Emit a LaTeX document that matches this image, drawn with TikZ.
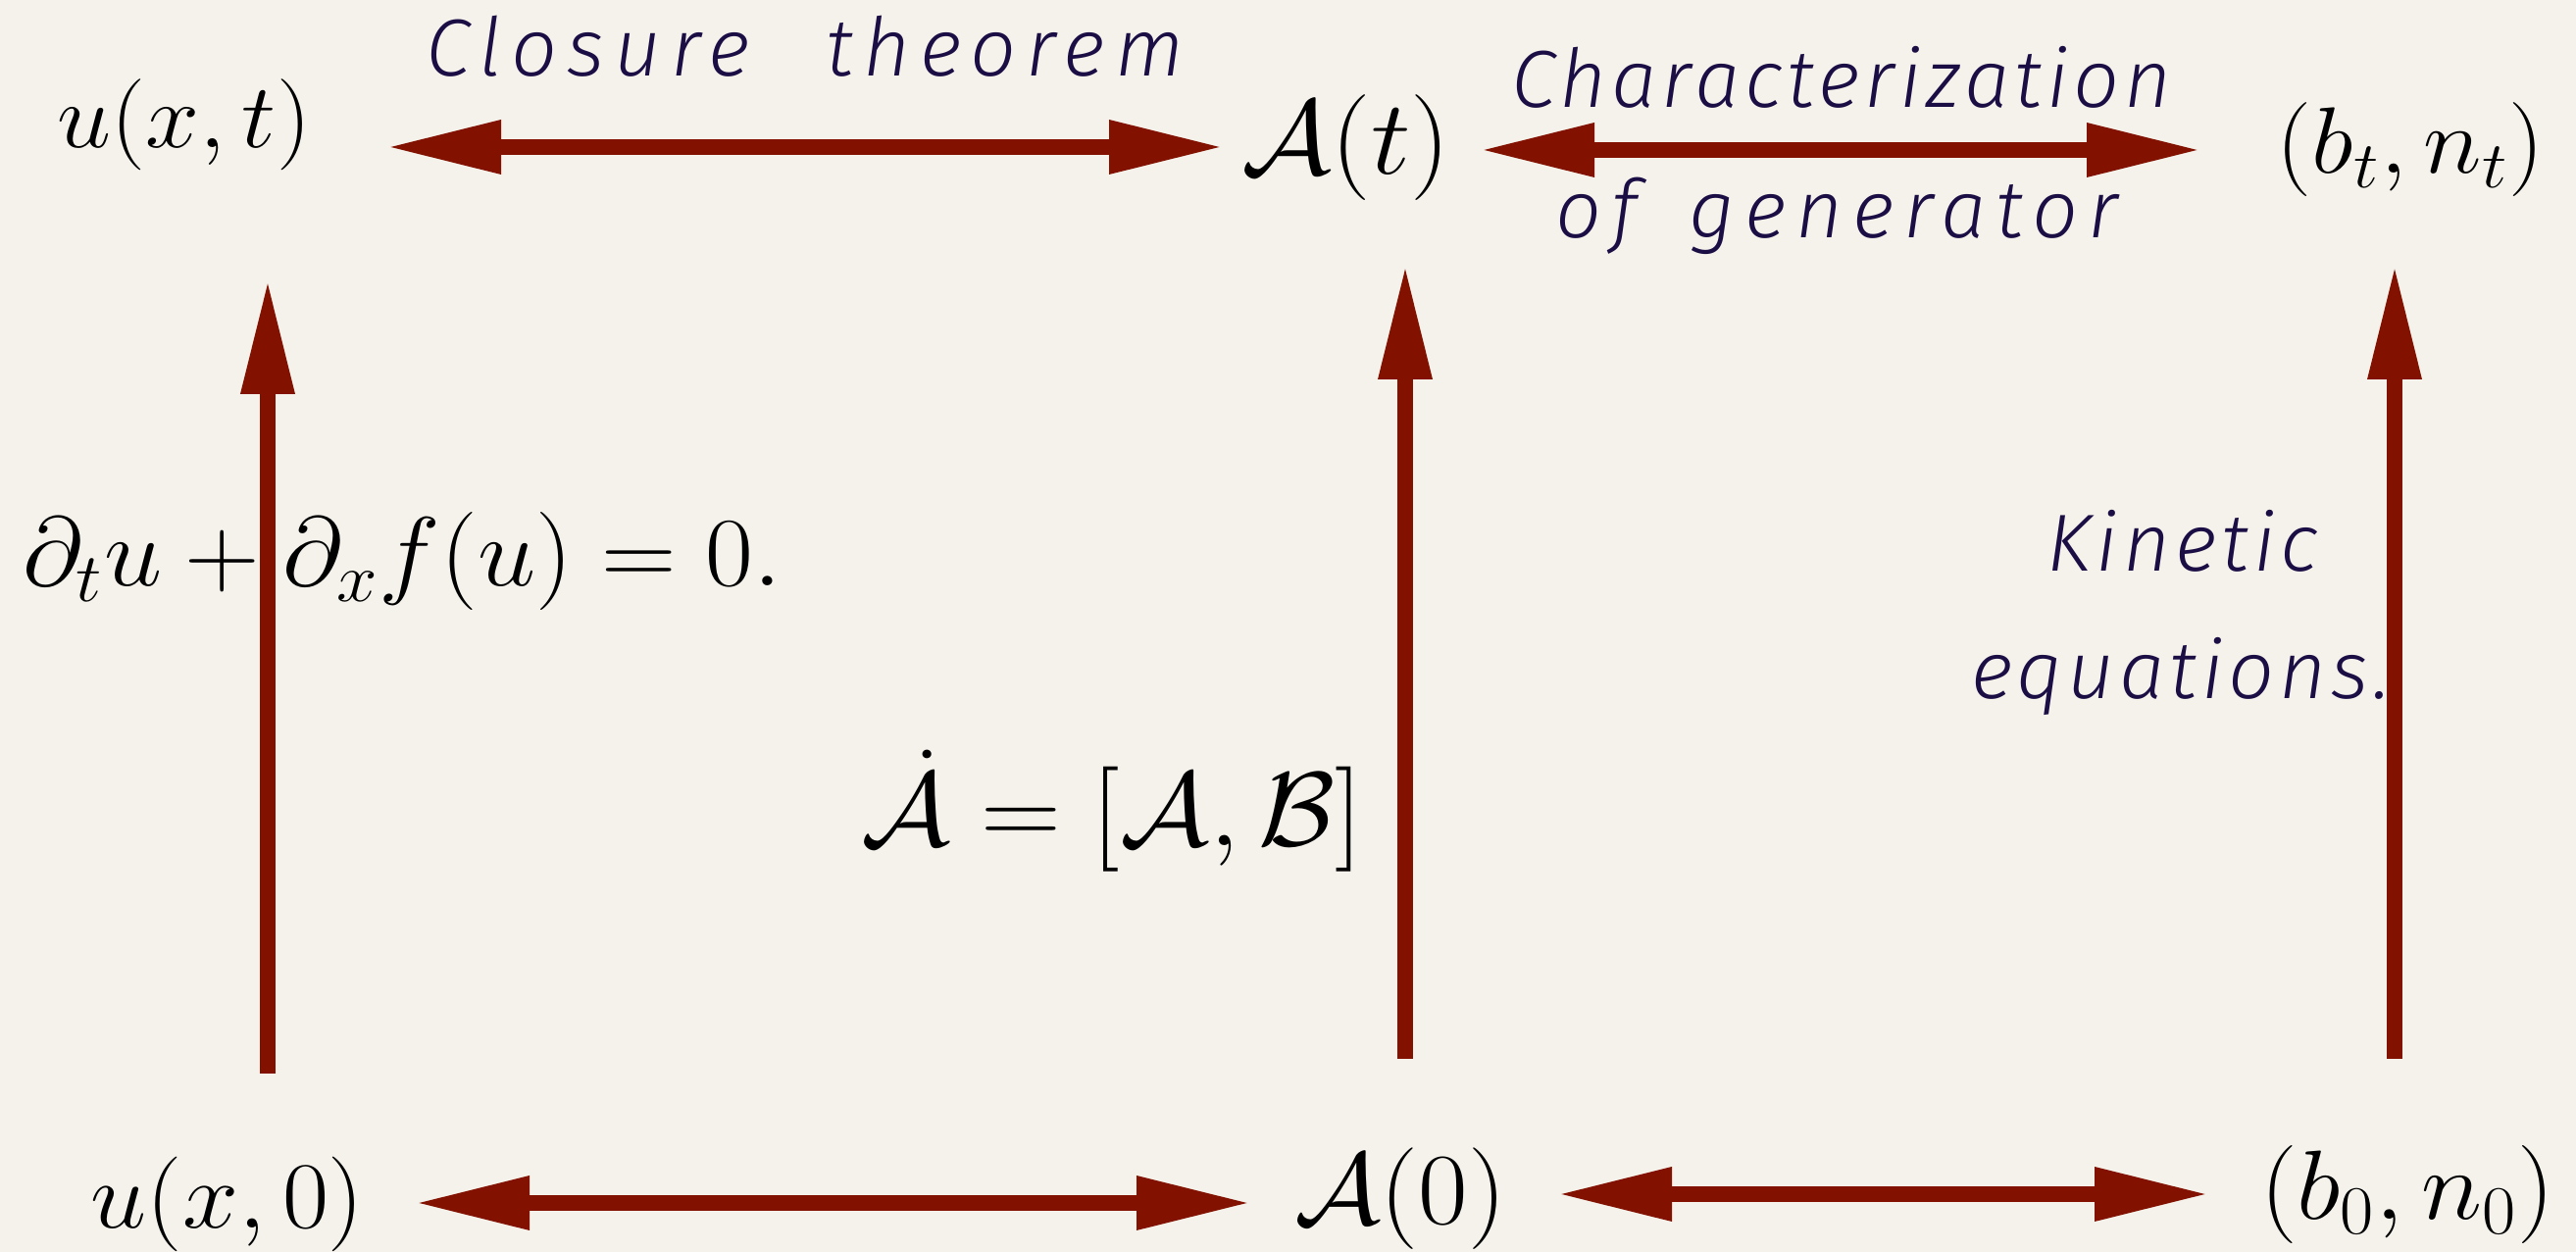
\RequirePackage{fix-cm}
\documentclass[tikz,border=0pt]{standalone}
\usepackage{amsmath, amssymb}
\usepackage{graphicx}
\usepackage{fontspec}
\usepackage{tikz}
\usetikzlibrary{positioning, arrows.meta}
\newfontfamily\handfont{Fira Sans Light Italic}[LetterSpace=6]
\newfontfamily\handwide{Fira Sans Light Italic}[LetterSpace=12]
\newcommand{\widen}[1]{\scalebox{1.06}[1]{#1}}
\definecolor{paper}{HTML}{F4F2EB}
\definecolor{paperdark}{HTML}{E6E3DC}
\definecolor{arrowred}{HTML}{821100}
\definecolor{ink}{HTML}{1A0E45}
\pgfdeclareradialshading{vignette}{\pgfpoint{0cm}{0cm}}{color(0bp)=(paper); color(40bp)=(paper); color(71bp)=(paperdark)}

\begin{document}
\begin{tikzpicture}[
    mathlabel/.style={inner sep=0pt},
    handnote/.style={inner sep=0pt, anchor=base, text=ink, font=\handfont\fontsize{23.5}{28}\selectfont},
    widenote/.style={handnote, font=\handwide\fontsize{23.5}{28}\selectfont},
    bigarrow/.style={line width=0.16cm, draw=arrowred, -{Triangle[length=1.17cm, width=0.51cm]}},
    twoway/.style={bigarrow, {Triangle[length=1.17cm, width=0.51cm]}-{Triangle[length=1.17cm, width=0.51cm]}}
  ]
    % Paper background
    \useasboundingbox (0,0) rectangle (26.27,12.77);
    \shade[shading=vignette] (0,0) rectangle (26.27,12.77);

    % Top row
    \node[mathlabel, font=\fontsize{26.5}{32}\selectfont] (uxt) at (1.88, 11.50) {\widen{$u(x,t)$}};
    \node[mathlabel, font=\fontsize{30.7}{36}\selectfont] (At) at (13.73, 11.26) {\widen{$\mathcal{A}(t)$}};
    \node[mathlabel, font=\fontsize{27.3}{33}\selectfont] (bnt) at (24.58, 11.24) {\widen{$(b_t,n_t)$}};

    % Bottom row
    \node[mathlabel, font=\fontsize{27.5}{33}\selectfont] (uxo) at (2.32, 0.49) {\widen{$u(x,0)$}};
    \node[mathlabel, font=\fontsize{29.5}{35}\selectfont] (Ao) at (14.28, 0.54) {\widen{$\mathcal{A}(0)$}};
    \node[mathlabel, font=\fontsize{28.5}{34}\selectfont] (bno) at (24.55, 0.59) {\widen{$(b_0,n_0)$}};

    % Evolution equations
    \node[mathlabel, anchor=base, font=\fontsize{28.5}{34}\selectfont] (pde) at (4.10, 6.79) {\widen{$\partial_t u + \partial_x f(u) = 0.$}};
    \node[mathlabel, anchor=base, font=\fontsize{30.5}{36}\selectfont] (lax) at (11.34, 4.14) {\widen{$\dot{\mathcal{A}} = [\mathcal{A},\mathcal{B}]$}};

    % Handwritten notes
    \node[widenote] (closure) at (8.21, 11.99) {Closure\hspace{0.45cm} theorem};
    \node[handnote] (charac) at (18.78, 11.67) {Characterization};
    \node[widenote] (ofgen) at (18.73, 10.34) {of\hspace{0.2cm} generator};
    \node[handnote] (kinetic) at (22.26, 6.94) {Kinetic};
    \node[handnote] (equations) at (22.24, 5.64) {equations.};

    % Arrow ends
    \coordinate (topA1) at (3.94, 11.27);  \coordinate (topA2) at (12.48, 11.27);
    \coordinate (topB1) at (15.09, 11.24); \coordinate (topB2) at (22.45, 11.24);
    \coordinate (botA1) at (4.23, 0.50);   \coordinate (botA2) at (12.76, 0.50);
    \coordinate (botB1) at (15.88, 0.59);  \coordinate (botB2) at (22.53, 0.59);
    \coordinate (upA1) at (2.73, 1.82);    \coordinate (upA2) at (2.73, 9.92);
    \coordinate (upB1) at (14.33, 1.97);   \coordinate (upB2) at (14.33, 10.07);
    \coordinate (upC1) at (24.42, 1.97);   \coordinate (upC2) at (24.42, 10.07);

    % Horizontal correspondences
    \draw[twoway] (topA1) -- (topA2);
    \draw[twoway] (topB1) -- (topB2);
    \draw[twoway] (botA1) -- (botA2);
    \draw[twoway] (botB1) -- (botB2);

    % Time evolution
    \draw[bigarrow] (upA1) -- (upA2);
    \draw[bigarrow] (upB1) -- (upB2);
    \draw[bigarrow] (upC1) -- (upC2);
\end{tikzpicture}
\end{document}
